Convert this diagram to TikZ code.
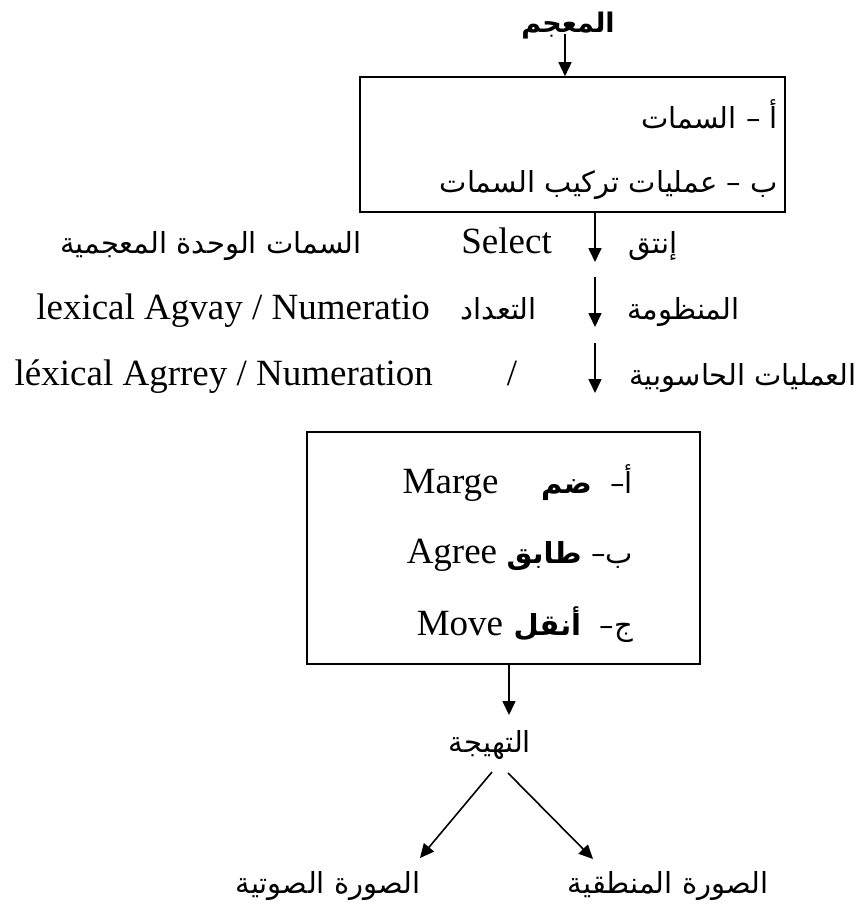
\documentclass[tikz,border=0pt]{standalone}
\usepackage{fontspec}
\setmainfont{Liberation Serif}
\newfontfamily\ar[Script=Arabic]{DejaVu Sans}
\TeXXeTstate=1
\usetikzlibrary{arrows.meta}
% right-to-left Arabic run
\newcommand{\AR}[1]{{\ar\beginR #1\endR}}
\begin{document}
\begin{tikzpicture}[x=1pt,y=1pt,
  lw/.style={line width=1.6pt},
  box/.style={draw,lw,rectangle,inner sep=0pt},
  arr/.style={lw,-{Triangle[length=14pt,width=13pt]}},
  lat/.style={inner sep=0pt,font=\fontsize{37}{40}\selectfont},
  arab/.style={inner sep=0pt,font=\fontsize{29}{32}\selectfont},
]
\useasboundingbox (0,0) rectangle (867,-911);

% lexicon and first box
\node[arab,font=\fontsize{27}{30}\selectfont\bfseries] (lex) at (568,-26) {\AR{المعجم}};
\node[box,minimum width=425pt,minimum height=135pt] (box1) at (572.5,-144.5) {};
\node[arab,anchor=base east] (f1) at (778,-128) {\AR{أ – السمات}};
\node[arab,anchor=base east] (f2) at (778,-192) {\AR{ب – عمليات تركيب السمات}};
\coordinate (lexs) at (565,-34);
\draw[arr] (lexs) -- (lexs |- box1.north);

% three steps between the boxes
\coordinate (s1) at (595,-262);
\coordinate (s2t) at (595,-277);
\coordinate (s2) at (595,-327);
\coordinate (s3t) at (595,-343);
\coordinate (s3) at (595,-393);
\draw[arr] (s1 |- box1.south) -- (s1);
\draw[arr] (s2t) -- (s2);
\draw[arr] (s3t) -- (s3);

\node[arab,anchor=base west] (r1a) at (628,-253) {\AR{إنتق}};
\node[lat,anchor=base east] (r1b) at (552,-253) {Select};
\node[arab,anchor=base east] (r1c) at (362,-253) {\AR{السمات الوحدة المعجمية}};

\node[arab,anchor=base west] (r2a) at (627,-319) {\AR{المنظومة}};
\node[arab,anchor=base east] (r2b) at (537,-319) {\AR{التعداد}};
\node[lat,anchor=base east] (r2c) at (430,-319) {lexical Agvay / Numeratio};

\node[arab,anchor=base east] (r3a) at (857,-385) {\AR{العمليات الحاسوبية}};
\node[lat,anchor=base] (r3b) at (512,-385) {/};
\node[lat,anchor=base east] (r3c) at (433,-385) {léxical Agrrey / Numeration};

% second box: the operations
\node[box,minimum width=393pt,minimum height=232pt] (box2) at (503.5,-548) {};
\node[arab,anchor=base east] (o1a) at (633,-493) {\AR{أ– \ \textbf{ضم}}};
\node[lat,anchor=base east] (o1b) at ([xshift=-42pt]o1a.base west) {Marge};
\node[arab,anchor=base east] (o2a) at (633,-563) {\AR{ب– \textbf{طابق}}};
\node[lat,anchor=base east] (o2b) at ([xshift=-9pt]o2a.base west) {Agree};
\node[arab,anchor=base east] (o3a) at (633,-635) {\AR{ج– \ \textbf{أنقل}}};
\node[lat,anchor=base east] (o3b) at ([xshift=-10pt]o3a.base west) {Move};

% output
\node[arab] (thy) at (490,-745) {\AR{التهيجة}};
\coordinate (t1) at (509,-715);
\draw[arr] (t1 |- box2.south) -- (t1);

\node[arab,anchor=base] (pf) at (328,-893) {\AR{الصورة الصوتية}};
\node[arab,anchor=base] (lf) at (668,-893) {\AR{الصورة المنطقية}};
\coordinate (dl0) at (492,-772);
\coordinate (dl1) at (420,-858);
\coordinate (dr0) at (508,-773);
\coordinate (dr1) at (593,-859);
\draw[arr] (dl0) -- (dl1);
\draw[arr] (dr0) -- (dr1);
\end{tikzpicture}
\end{document}
